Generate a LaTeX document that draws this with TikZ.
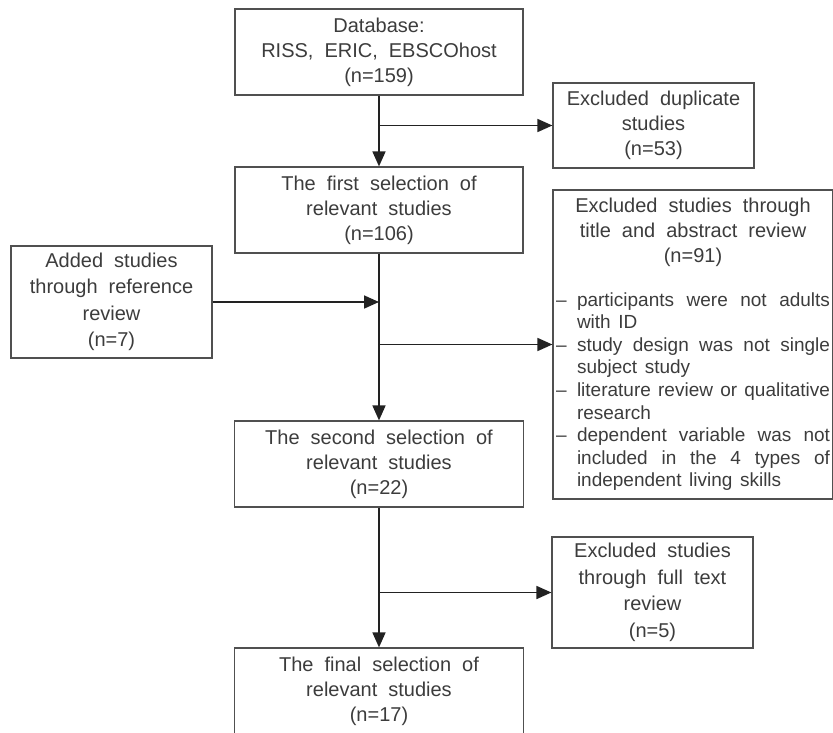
\documentclass[tikz,border=0pt]{standalone}
\usepackage{fontspec}
\setmainfont{Liberation Sans}
\usetikzlibrary{arrows.meta}

\definecolor{textgray}{HTML}{3C3C3C}
\definecolor{boxgray}{HTML}{505050}
\definecolor{linegray}{HTML}{222222}

% wider word spaces, as in the scan
\newcommand{\wideword}{\spaceskip=0.55em plus 0.2em minus 0.1em\relax}
\newcommand{\listword}{\spaceskip=0.4em plus 0.3em minus 0.12em\relax}
% one excluded reason: dash, then hanging lines
\newcommand{\reason}[1]{\par\noindent\hangindent=21pt\hangafter=1\hbox to 21pt{--\hfil}#1}

\begin{document}
\begin{tikzpicture}[x=1pt,y=-1pt,
  box/.style={draw=boxgray,line width=1.2pt,align=center,inner sep=3pt,text=textgray,
    font=\fontsize{20}{25}\selectfont\wideword},
  flow/.style={draw=linegray,line width=1.7pt,-{Triangle[length=15pt,width=13pt]}}]
\useasboundingbox (0,0) rectangle (833,732);
\clip (0,0) rectangle (833,732);

% main column
\node [box,minimum width=288pt,minimum height=86pt] (db) at (379,52)
  {Database:\\RISS, ERIC, EBSCOhost\\(n=159)};
\node [box,minimum width=288pt,minimum height=86pt] (first) at (379,210)
  {The first selection of\\relevant studies\\(n=106)};
\node [box,minimum width=289pt,minimum height=86pt] (second) at (379,464)
  {The second selection of\\relevant studies\\(n=22)};
\node [box,minimum width=289pt,minimum height=86pt] (final) at (379,691)
  {The final selection of\\relevant studies\\(n=17)};

% side boxes
\node [box,minimum width=201pt,minimum height=85pt] (dup) at (653.5,125.5)
  {Excluded duplicate\\studies\\(n=53)};
\node [box,minimum width=201pt,minimum height=112pt,font=\fontsize{20}{26.5}\selectfont\wideword] (added) at (111.5,302)
  {Added studies\\through reference\\review\\(n=7)};
\node [box,minimum width=201pt,minimum height=111pt,font=\fontsize{20}{26.5}\selectfont\wideword] (full) at (652.5,592.5)
  {Excluded studies\\through full text\\review\\(n=5)};
\node [box,align=justify,text width=274pt,minimum height=309pt] (title) at (693,344.5)
  {{\centering Excluded studies through\\title and abstract review\\(n=91)\par}
   \vspace{21pt}\fontsize{19}{22.6}\selectfont\listword
   \reason{participants were not adults\linebreak with ID}
   \reason{study design was not single\linebreak subject study}
   \reason{literature review or qualitative\linebreak research}
   \reason{dependent variable was not\linebreak included in the 4 types of\linebreak independent living skills}\par};

% connectors
\coordinate (j1) at (db.south |- dup.west);
\coordinate (j2) at (first.south |- added.east);
\coordinate (j3) at (first.south |- title.west);
\coordinate (j4) at (second.south |- full.west);
\draw [flow] (db.south) -- (first.north);
\draw [flow] (first.south) -- (second.north);
\draw [flow] (second.south) -- (final.north);
\draw [flow] (j1) -- (dup.west);
\draw [flow] (added.east) -- (j2);
\draw [flow] (j3) -- (title.west);
\draw [flow] (j4) -- (full.west);
\end{tikzpicture}
\end{document}
